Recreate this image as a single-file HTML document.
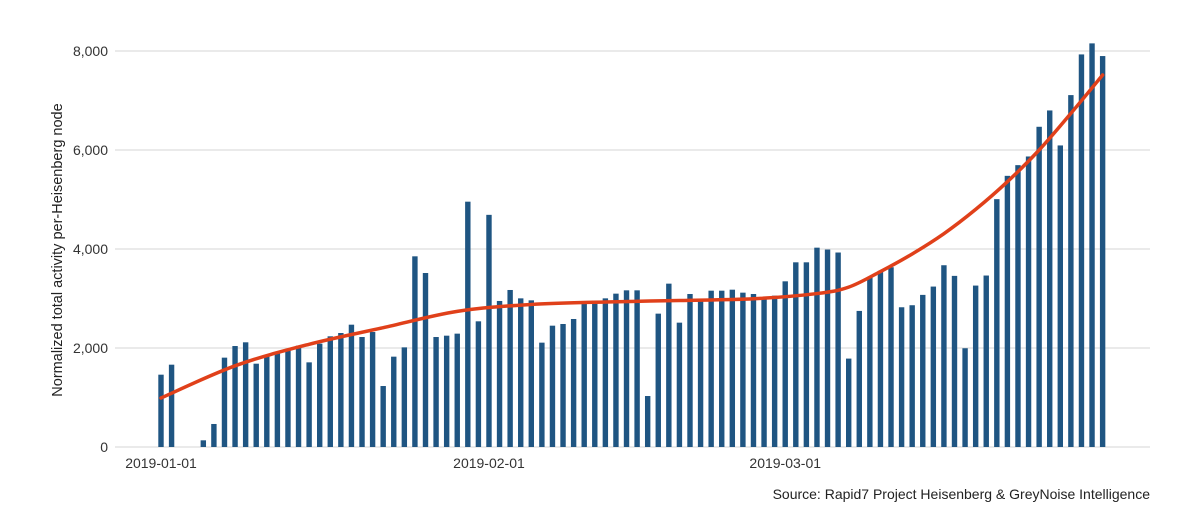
<!DOCTYPE html>
<html><head><meta charset="utf-8"><style>
html,body{margin:0;padding:0;background:#fff;width:1200px;height:523px;overflow:hidden}
svg{display:block;font-family:"Liberation Sans",sans-serif}
</style></head><body>
<svg id="chart" width="1200" height="523">
<g id="grid"></g>
<g id="yaxis"></g>
<g id="xaxis"></g>
<g id="bars"></g>
<path id="trend" fill="none" stroke="#e0401a" stroke-width="3.5" stroke-linecap="round"></path>
<text x="0" y="0" transform="translate(62,250) rotate(-90)" text-anchor="middle" font-size="14.5" fill="#222">Normalized total activity per-Heisenberg node</text>
<text x="1150" y="499" text-anchor="end" font-size="14" fill="#222">Source: Rapid7 Project Heisenberg &amp; GreyNoise Intelligence</text>
</svg>
<script>
const dayValues = [1461,1663,0,0,135,465,1805,2040,2115,1683,1845,1926,1953,2047,1710,2088,2236,2303,2471,2222,2323,1232,1825,2013,3852,3515,2222,2249,2290,4956,2539,
4690,2950,3172,3003,2963,2108,2451,2485,2586,2896,2956,3003,3098,3165,3165,1030,2694,3300,2512,3091,2963,3158,3158,3178,3118,3091,3030,3057,
3347,3731,3731,4027,3989,3929,1786,2749,3437,3558,3632,2823,2864,3073,3241,3672,3457,1995,3261,3464,5007,5478,5694,5869,6469,6799,6092,7109,7931,8154,7898];
const trendDays = [0,7,14,21,28,35,42,49,56,62,65,68,71,74,77,80,83,86,89];
const trendValues = [990,1640,2075,2410,2740,2880,2930,2960,2995,3100,3230,3545,3900,4310,4800,5360,6000,6740,7515];
const yTicks = [0,2000,4000,6000,8000];
const yTickLabels = ["0","2,000","4,000","6,000","8,000"];
const xTickDays = [0,31,59];
const xTickLabels = ["2019-01-01","2019-02-01","2019-03-01"];

const NS="http://www.w3.org/2000/svg";
const X0=161, DX=10.58, Y0=447, YS=(447-51)/8000;
const xs=d=>X0+d*DX, ys=v=>Y0-v*YS;
function mk(tag,attrs,parent){const e=document.createElementNS(NS,tag);for(const k in attrs)e.setAttribute(k,attrs[k]);parent.appendChild(e);return e;}
const grid=document.getElementById('grid'),ya=document.getElementById('yaxis'),xa=document.getElementById('xaxis'),bars=document.getElementById('bars');
yTicks.forEach((t,i)=>{
  const l=mk('line',{x1:115,x2:1150,y1:ys(t),y2:ys(t),stroke:'#d6d6d6','stroke-width':1},grid);
  
  
  const tx=mk('text',{x:108,y:ys(t)+5,'text-anchor':'end','font-size':14,fill:'#333'},ya);
  tx.textContent=yTickLabels[i];
  
  
});
xTickDays.forEach((d,i)=>{
  const tx=mk('text',{x:xs(d),y:468,'text-anchor':'middle','font-size':14,fill:'#333'},xa);
  tx.textContent=xTickLabels[i];
  
  
});
dayValues.forEach((v,i)=>{
  if(v<=0)return;
  const r=mk('rect',{x:xs(i)-2.7,y:ys(v),width:5.4,height:v*YS,fill:'#1f5582'},bars);
  
  
});
const P=trendDays.map((d,i)=>[xs(d),ys(trendValues[i])]);
let dstr=`M${P[0][0]},${P[0][1]}`;
for(let i=0;i<P.length-1;i++){
  const p0=P[i-1]||P[i],p1=P[i],p2=P[i+1],p3=P[i+2]||P[i+1];
  const c1=[p1[0]+(p2[0]-p0[0])/6,p1[1]+(p2[1]-p0[1])/6];
  const c2=[p2[0]-(p3[0]-p1[0])/6,p2[1]-(p3[1]-p1[1])/6];
  dstr+=` C${c1[0]},${c1[1]} ${c2[0]},${c2[1]} ${p2[0]},${p2[1]}`;
}
document.getElementById('trend').setAttribute('d',dstr);
</script>
</body></html>
